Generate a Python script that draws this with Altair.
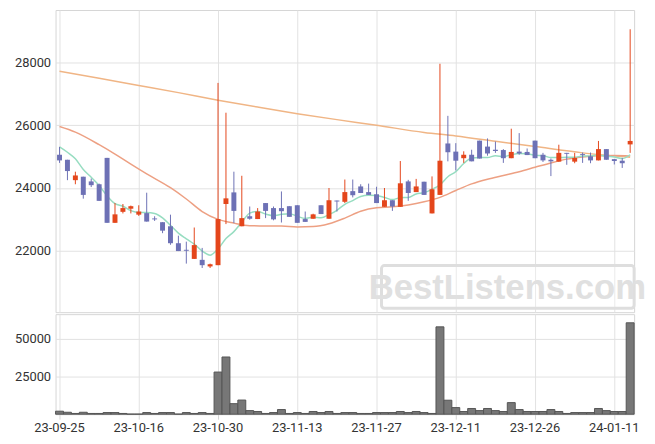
import altair as alt
import pandas as pd

dates = [
    "23-09-25", "23-09-26", "23-09-27", "23-10-04", "23-10-05", "23-10-06", "23-10-10", "23-10-11",
    "23-10-12", "23-10-13", "23-10-16", "23-10-17", "23-10-18", "23-10-19", "23-10-20", "23-10-23",
    "23-10-24", "23-10-25", "23-10-26", "23-10-27", "23-10-30", "23-10-31", "23-11-01", "23-11-02",
    "23-11-03", "23-11-06", "23-11-07", "23-11-08", "23-11-09", "23-11-10", "23-11-13", "23-11-14",
    "23-11-15", "23-11-16", "23-11-17", "23-11-20", "23-11-21", "23-11-22", "23-11-23", "23-11-24",
    "23-11-27", "23-11-28", "23-11-29", "23-11-30", "23-12-01", "23-12-04", "23-12-05", "23-12-06",
    "23-12-07", "23-12-08", "23-12-11", "23-12-12", "23-12-13", "23-12-14", "23-12-15", "23-12-18",
    "23-12-19", "23-12-20", "23-12-21", "23-12-22", "23-12-26", "23-12-27", "23-12-28", "24-01-02",
    "24-01-03", "24-01-04", "24-01-05", "24-01-08", "24-01-09", "24-01-10", "24-01-11", "24-01-12",
    "24-01-15",
]

opens = [
    25060, 24900, 24250, 24360, 24210, 24120, 24960, 22890, 23240, 23340,
    23150, 23200, 23030, 22910, 22780, 22240, 22030, 21740, 21710, 21500,
    21540, 23490, 23860, 22780, 23100, 23010, 23520, 23360, 23360, 23420,
    23450, 23010, 23020, 23450, 23020, 23600, 23560, 23900, 24050, 23870,
    23800, 23400, 23610, 23400, 24210, 23870, 24200, 23190, 23780, 25420,
    25160, 24950, 25060, 25510, 25320, 25220, 25210, 24950, 25160, 25150,
    25510, 25060, 24900, 24840, 25120, 24840, 25080, 25010, 24880, 25240,
    24920, 24870, 25390,
]
highs = [
    25310, 24900, 24520, 24360, 24300, 24140, 24960, 23520, 23490, 23440,
    23450, 23850, 23100, 22910, 23150, 22480, 22290, 22740, 22090, 21590,
    27350, 26400, 24520, 24390, 23410, 23360, 23520, 23410, 23890, 23420,
    23450, 23250, 23180, 23450, 24000, 23600, 24270, 24270, 24120, 24140,
    24040, 24000, 23610, 24860, 24260, 24290, 24200, 24370, 27960, 26300,
    25430, 25170, 25220, 25510, 25580, 25480, 25240, 25890, 25750, 25260,
    25510, 25120, 24940, 25380, 25120, 25120, 25130, 25130, 25500, 25240,
    24920, 24960, 29060,
]
lows = [
    24800, 24250, 24120, 23660, 24030, 23590, 22890, 22890, 23190, 23190,
    23110, 22930, 22950, 22560, 22190, 21990, 21590, 21740, 21450, 21450,
    21540, 22850, 22880, 22780, 22990, 23010, 23040, 22970, 22900, 23080,
    22890, 22920, 23020, 23170, 23020, 23250, 23520, 23700, 23840, 23780,
    23520, 23400, 23270, 23400, 23590, 23870, 23780, 23190, 23780, 24850,
    24560, 24800, 24850, 24940, 25030, 25120, 24800, 24950, 25060, 25050,
    24950, 24830, 24380, 24840, 24740, 24790, 24800, 24790, 24880, 24900,
    24750, 24640, 25120,
]
closes = [
    24880, 24540, 24400, 23780, 24090, 23590, 22890, 23160, 23360, 23420,
    23250, 22930, 23000, 22640, 22240, 21990, 22000, 22180, 21540, 21570,
    23010, 23670, 23270, 23040, 23020, 23250, 23270, 23000, 23260, 23080,
    22890, 22920, 23160, 23170, 23610, 23570, 23870, 23770, 23840, 23780,
    23520, 23610, 23410, 24150, 23840, 24050, 23780, 23960, 24870, 25140,
    24870, 25060, 24850, 24940, 25100, 25180, 24950, 25150, 25100, 25050,
    24950, 24880, 24850, 25120, 25090, 24960, 25050, 24880, 25240, 24900,
    24860, 24790, 25500,
]
volumes = [
    2000, 1300, 500, 1300, 500, 500, 1100, 1100, 500, 100,
    100, 1100, 500, 1100, 1100, 100, 1100, 500, 1100, 500,
    28000, 38000, 7000, 9400, 2400, 1800, 500, 1100, 3100, 500,
    1100, 500, 1800, 1100, 1800, 500, 1100, 1100, 500, 500,
    1100, 1100, 1100, 1800, 1100, 1800, 1100, 500, 58000, 9300,
    4400, 1800, 3800, 2400, 3800, 2400, 1800, 7700, 3100, 1800,
    1800, 1800, 3100, 1800, 500, 1100, 1100, 1100, 3800, 2400,
    1800, 1800, 60700,
]
ma5 = [
    25310, 25140, 24930, 24590, 24340, 24080, 23750, 23500, 23420, 23280,
    23220, 23220, 23190, 23050, 22810, 22560, 22380, 22210, 21990, 21860,
    22060, 22390, 22610, 22910, 23200, 23250, 23170, 23120, 23160, 23180,
    23100, 23030, 23070, 23050, 23150, 23290, 23480, 23600, 23730, 23770,
    23760, 23700, 23630, 23690, 23700, 23810, 23850, 23960, 24100, 24360,
    24520, 24780, 24960, 24970, 24970, 25030, 25000, 25060, 25100, 25090,
    25040, 25030, 24970, 24970, 24980, 24980, 25020, 25020, 25050, 25010,
    24990, 24940, 25060,
]
ma20_idx = [0, 2, 5, 7, 9, 11, 14, 16, 18, 20, 22, 24, 26, 28, 30, 32, 34, 36,
            38, 40, 42, 44, 46, 48, 50, 52, 54, 56, 58, 60, 62, 64, 66, 68, 70, 72]
ma20_val = [25960, 25780, 25380, 25080, 24760, 24450, 24010, 23650, 23250, 23000,
            22880, 22800, 22790, 22790, 22760, 22770, 22860, 23040, 23260, 23370,
            23400, 23460, 23560, 23700, 23920, 24130, 24280, 24400, 24520, 24660,
            24800, 24920, 24990, 25030, 25035, 25020]
ma60_idx = [0, 5, 10, 15, 20, 25, 30, 35, 40, 46, 50, 55, 60, 66, 72]
ma60_val = [27720, 27500, 27270, 27040, 26800, 26580, 26370, 26180, 26000, 25770,
            25660, 25490, 25320, 25120, 24980]

UP = "#E4461B"
DOWN = "#6D71B5"
GREEN = "#97DDC1"
SALMON = "#EDA083"
LIGHTOR = "#F0B585"
FONT = "Roboto"

df = pd.DataFrame({
    "date": dates, "open": opens, "high": highs, "low": lows, "close": closes,
    "volume": volumes, "ma5": ma5,
})
df["dir"] = ["up" if c >= o else "down" for o, c in zip(opens, closes)]
df20 = pd.DataFrame({"date": [dates[i] for i in ma20_idx], "v": ma20_val})
df60 = pd.DataFrame({"date": [dates[i] for i in ma60_idx], "v": ma60_val})
tick_dates = dates[::10]

W = 584
xscale = alt.Scale(type="band", domain=dates, paddingInner=0, paddingOuter=0)
yscale = alt.Scale(domain=[20042, 29674], nice=False, zero=False)
color = alt.Color("dir:N", scale=alt.Scale(domain=["up", "down"], range=[UP, DOWN]), legend=None)

px_axis = alt.Axis(values=tick_dates, labels=False, ticks=False, domain=False, grid=True,
                   bandPosition=0.5, title=None)
py_axis = alt.Axis(values=[22000, 24000, 26000, 28000], format="d", ticks=False, domain=False,
                   labelPadding=5, title=None)

X = alt.X("date:O", scale=xscale, axis=px_axis)

wm_df = pd.DataFrame({"t": ["BestListens.com"]})
wm_box = alt.Chart(wm_df).mark_rect(fill="#ffffff", fillOpacity=0.3, stroke="#dedede",
                                     strokeWidth=3, cornerRadius=3).encode(
    x=alt.value(329), x2=alt.value(584), y=alt.value(258), y2=alt.value(301))
wm_text = alt.Chart(wm_df).mark_text(font="Liberation Sans", fontWeight="bold", fontSize=35,
                                      color="#e0e0e0", align="center", baseline="middle").encode(
    x=alt.value(456), y=alt.value(281), text="t:N")

base = alt.Chart(df).encode(x=X)
wick = base.mark_rule(strokeWidth=1).encode(
    y=alt.Y("low:Q", scale=yscale, axis=py_axis), y2="high:Q", color=color)
body = base.mark_bar(size=5).encode(y=alt.Y("open:Q"), y2="close:Q", color=color)
l5 = base.mark_line(color=GREEN, strokeWidth=1.5, interpolate="monotone").encode(y="ma5:Q")
l20 = alt.Chart(df20).mark_line(color=SALMON, strokeWidth=1.5, interpolate="monotone").encode(
    x=X, y="v:Q")
l60 = alt.Chart(df60).mark_line(color=LIGHTOR, strokeWidth=1.5, interpolate="monotone").encode(
    x=X, y="v:Q")

price = alt.layer(wm_box, wm_text, l60, l20, l5, wick, body).properties(width=W, height=305)

vol = alt.Chart(df).mark_bar(color="#777777", stroke="#555555", strokeWidth=1).encode(
    x=alt.X("date:O", scale=xscale,
            axis=alt.Axis(values=tick_dates, labelAngle=0, tickSize=5, ticks=True, domain=False,
                          grid=True, bandPosition=0.5, labelPadding=2, labelOverlap=False,
                          title=None)),
    y=alt.Y("volume:Q", scale=alt.Scale(domain=[0, 66450], nice=False),
            axis=alt.Axis(values=[25000, 50000], format="d", ticks=False, domain=False,
                          labelPadding=5, title=None)),
).properties(width=W, height=101)

chart = alt.VConcatChart(
    vconcat=[price, vol], spacing=0,
    padding={"left": 5, "top": -1, "right": 0, "bottom": 2},
    autosize=alt.AutoSizeParams(type="pad"),
).configure_view(stroke="#d6d6d6", strokeWidth=1).configure_axis(
    labelFont=FONT, labelFontSize=13, labelColor="#333333", gridColor="#e2e2e2",
    tickColor="#d6d6d6", gridWidth=1,
)

chart.save("out.html", embed_options={"renderer": "svg", "actions": False})
